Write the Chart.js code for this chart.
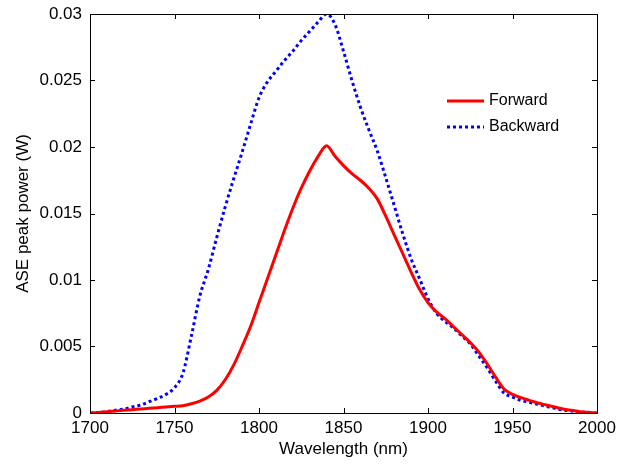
<!DOCTYPE html>
<html lang="en">

<head>
    <meta charset="UTF-8">
    <title>ASE peak power vs wavelength</title>
    <script src="https://cdn.jsdelivr.net/npm/chart.js"></script>
    <style>
        html, body { margin: 0; padding: 0; background: #fff; }
        #wrap { width: 632px; height: 465px; }
    </style>
</head>

<body>
    <div id="wrap"><canvas id="myChart" width="632" height="465"></canvas></div>

    <script>
        // Wavelength grid (nm), every 5 nm
        const wavelengths = [
            1700, 1705, 1710, 1715, 1720, 1725, 1730, 1735, 1740, 1745,
            1750, 1755, 1760, 1765, 1770, 1775, 1780, 1785, 1790, 1795,
            1800, 1805, 1810, 1815, 1820, 1825, 1830, 1835, 1840, 1845,
            1850, 1855, 1860, 1865, 1870, 1875, 1880, 1885, 1890, 1895,
            1900, 1905, 1910, 1915, 1920, 1925, 1930, 1935, 1940, 1945,
            1950, 1955, 1960, 1965, 1970, 1975, 1980, 1985, 1990, 1995,
            2000
        ];

        // Forward ASE peak power (W)
        const forward = [
            0, 0.00004, 0.0001, 0.00015, 0.0002, 0.00025, 0.0003, 0.00035, 0.0004, 0.00045,
            0.0005, 0.00055, 0.0007, 0.0009, 0.0012, 0.0017, 0.0025, 0.0036, 0.005, 0.0065,
            0.0083, 0.0101, 0.0119, 0.0137, 0.0154, 0.0169, 0.0182, 0.0193, 0.0201, 0.0193,
            0.0186, 0.0180, 0.0175, 0.0169, 0.0161, 0.0148, 0.0134, 0.0120, 0.0106, 0.0093,
            0.0083, 0.0076, 0.0071, 0.0065, 0.0059, 0.0053, 0.0046, 0.0037, 0.0027, 0.0018,
            0.0014, 0.00115, 0.00095, 0.00075, 0.0006, 0.00045, 0.0003, 0.0002, 0.0001, 0.00005,
            0
        ];

        // Backward ASE peak power (W)
        const backward = [
            0, 0.00004, 0.0001, 0.0002, 0.0003, 0.00045, 0.0006, 0.00085, 0.0011, 0.0014,
            0.0019, 0.003, 0.0058, 0.0088, 0.0108, 0.0132, 0.0155, 0.0176, 0.0196, 0.0217,
            0.0237, 0.0249, 0.0257, 0.0265, 0.0272, 0.0280, 0.0287, 0.0294, 0.0300, 0.0292,
            0.0272, 0.0250, 0.0230, 0.0213, 0.0197, 0.0177, 0.0156, 0.0135, 0.0116, 0.0101,
            0.0086, 0.0075, 0.0069, 0.0064, 0.0058, 0.0052, 0.0043, 0.0034, 0.0024, 0.0015,
            0.0012, 0.00095, 0.0008, 0.00065, 0.0005, 0.00035, 0.00022, 0.00015, 0.00008, 0.00004,
            0
        ];

        const seriesNames = ['Forward', 'Backward'];

        const FONT = "'Liberation Sans', Arial, Helvetica, sans-serif";
        Chart.defaults.font.family = FONT;
        Chart.defaults.font.size = 17;
        Chart.defaults.color = '#000';

        // box around the plot + inward ticks on all four sides (MATLAB look)
        const boxTicks = {
            id: 'boxTicks',
            afterDraw(chart) {
                const { ctx, chartArea: a, scales } = chart;
                const len = 5;
                ctx.save();
                ctx.strokeStyle = '#000';
                ctx.lineWidth = 1;
                ctx.strokeRect(a.left + 0.5, a.top + 0.5, a.right - a.left, a.bottom - a.top);
                ctx.beginPath();
                scales.x.ticks.forEach(t => {
                    const px = Math.round(scales.x.getPixelForValue(t.value)) + 0.5;
                    ctx.moveTo(px, a.bottom); ctx.lineTo(px, a.bottom - len);
                    ctx.moveTo(px, a.top); ctx.lineTo(px, a.top + len);
                });
                scales.y.ticks.forEach(t => {
                    const py = Math.round(scales.y.getPixelForValue(t.value)) + 0.5;
                    ctx.moveTo(a.left, py); ctx.lineTo(a.left + len, py);
                    ctx.moveTo(a.right, py); ctx.lineTo(a.right - len, py);
                });
                ctx.stroke();
                ctx.restore();
            }
        };

        // legend inside the axes, no frame
        const innerLegend = {
            id: 'innerLegend',
            afterDraw(chart) {
                const { ctx, chartArea: a } = chart;
                const x0 = a.left + 357, y0 = a.top + 87, gap = 26;
                ctx.save();
                ctx.font = '16px ' + FONT;
                ctx.textBaseline = 'middle';
                chart.data.datasets.forEach((ds, i) => {
                    const y = y0 + i * gap;
                    ctx.beginPath();
                    ctx.strokeStyle = ds.borderColor;
                    ctx.lineWidth = ds.borderWidth;
                    ctx.setLineDash(ds.borderDash || []);
                    ctx.moveTo(x0, y);
                    ctx.lineTo(x0 + 37, y);
                    ctx.stroke();
                    ctx.setLineDash([]);
                    ctx.fillStyle = '#000';
                    ctx.fillText(ds.label, x0 + 42, y);
                });
                ctx.restore();
            }
        };

        const toPoints = vals => vals.map((v, i) => ({ x: wavelengths[i], y: v }));

        new Chart(document.getElementById('myChart'), {
            type: 'scatter',
            data: {
                datasets: [
                    {
                        label: seriesNames[0],
                        data: toPoints(forward),
                        showLine: true,
                        borderColor: '#ff0000',
                        borderWidth: 3,
                        pointRadius: 0,
                        cubicInterpolationMode: 'monotone',
                    },
                    {
                        label: seriesNames[1],
                        data: toPoints(backward),
                        showLine: true,
                        borderColor: '#0000ff',
                        borderWidth: 3,
                        borderDash: [3, 3],
                        pointRadius: 0,
                        cubicInterpolationMode: 'monotone',
                    },
                ],
            },
            options: {
                responsive: false,
                animation: false,
                layout: { padding: { top: 14, right: 35, left: 0, bottom: 0 } },
                plugins: {
                    legend: { display: false },
                    tooltip: { enabled: false },
                },
                scales: {
                    x: {
                        type: 'linear',
                        min: 1700,
                        max: 2000,
                        grid: { display: false, drawTicks: false },
                        border: { display: false },
                        ticks: { stepSize: 50, padding: 5, maxRotation: 0, callback: v => String(v) },
                        title: { display: true, text: 'Wavelength (nm)', padding: { top: 0, bottom: 5 } },
                        afterFit: s => { s.height = 52; },
                    },
                    y: {
                        min: 0,
                        max: 0.03,
                        grid: { display: false, drawTicks: false },
                        border: { display: false },
                        ticks: {
                            stepSize: 0.005,
                            padding: 8,
                            callback: v => String(+v.toFixed(3)),
                        },
                        title: { display: true, text: 'ASE peak power (W)', padding: { top: 13, bottom: 0 } },
                        afterFit: s => { s.width = 90; s.paddingTop = 0; s.paddingBottom = 0; },
                    },
                },
            },
            plugins: [boxTicks, innerLegend],
        });
    </script>
</body>

</html>
